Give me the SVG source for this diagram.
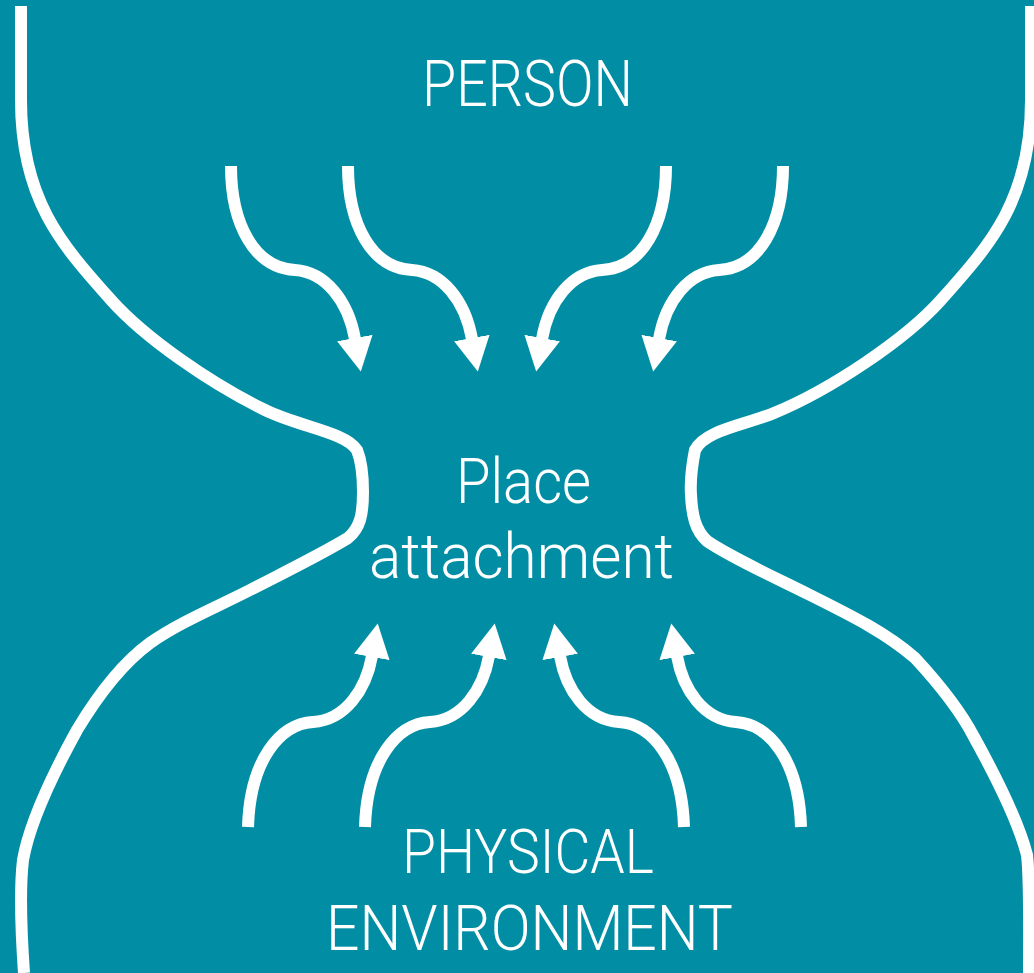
<svg xmlns="http://www.w3.org/2000/svg" width="1034" height="973" viewBox="0 0 1034 973">
  <style>
    .bg { fill: #018ea4; }
    .outline { fill: none; stroke: #ffffff; stroke-width: 12; stroke-linejoin: round; }
    .arrow { fill: none; stroke: #ffffff; stroke-width: 12; stroke-linecap: butt; marker-end: url(#ah); }
    .label { fill: #ffffff; font-family: Roboto, "Liberation Sans", "DejaVu Sans", sans-serif; font-weight: 300; }
  </style>
  <defs>
    <marker id="ah" viewBox="0 0 34 36" refX="1" refY="18" markerWidth="34" markerHeight="36" orient="auto" markerUnits="userSpaceOnUse">
      <path d="M0,0 L34,18 L0,36 Z" fill="#ffffff"/>
    </marker>
  </defs>

  <rect class="bg" x="0" y="0" width="1034" height="973"/>

  <g id="outline">
    <path class="outline" d="M21,6 L21,100 C21,200 62,245 111,300 C145,338 210,383 265,410 C300,427 345,432 357,450 C361,460 363,475 363,492 C363,515 360,528 348,538 C320,555 285,572 250,590 C215,608 180,622 150,643 C120,665 95,700 77,730 C55,770 30,820 23,860 C20,885 21,930 24,973"/>
    <path class="outline" d="M1031,6 L1031,100 C1031,200 990,245 941,300 C905,340 830,390 774,413 C745,425 705,430 695,450 C692,465 690,480 691,495 C692,515 695,530 707,541 C730,557 770,575 810,595 C850,615 885,632 915,658 C940,685 960,710 974,737 C995,775 1018,820 1027,855 C1030,880 1029,930 1029,973"/>
  </g>

  <g id="connectors">
    <path class="arrow" d="M231,166 C231,225 255,268 295,270 C325,272 348,300 355,339"/>
    <path class="arrow" d="M348,166 C348,225 372,268 412,270 C442,272 465,300 472,339"/>
    <path class="arrow" d="M666,166 C666,225 642,268 602,270 C572,272 549,300 542,339"/>
    <path class="arrow" d="M783,166 C783,225 759,268 719,270 C689,272 666,300 659,339"/>
    <path class="arrow" d="M248,827 C250,760 280,724 313,722 C345,720 366,690 372,656"/>
    <path class="arrow" d="M365,827 C367,760 397,724 430,722 C462,720 483,690 489,656"/>
    <path class="arrow" d="M684,827 C682,760 652,724 619,722 C587,720 566,690 560,656"/>
    <path class="arrow" d="M801,827 C799,760 769,724 736,722 C704,720 683,690 677,656"/>
  </g>

  <g id="node-person">
    <text class="label" x="422" y="106" font-size="64" textLength="211" lengthAdjust="spacingAndGlyphs">PERSON</text>
  </g>
  <g id="node-place-attachment">
    <text class="label" x="456" y="503" font-size="63" textLength="135" lengthAdjust="spacingAndGlyphs">Place</text>
    <text class="label" x="369" y="578" font-size="63" textLength="305" lengthAdjust="spacingAndGlyphs">attachment</text>
  </g>
  <g id="node-physical-environment">
    <text class="label" x="402" y="873" font-size="61" textLength="252" lengthAdjust="spacingAndGlyphs">PHYSICAL</text>
    <text class="label" x="326" y="950" font-size="63" textLength="407" lengthAdjust="spacingAndGlyphs">ENVIRONMENT</text>
  </g>
</svg>
